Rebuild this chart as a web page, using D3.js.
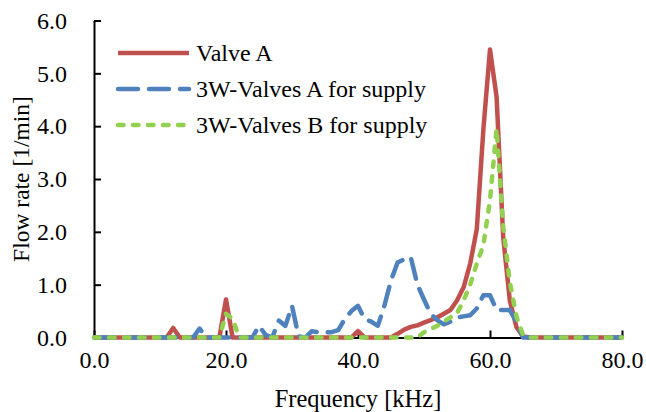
<!DOCTYPE html>
<html><head><meta charset="utf-8">
<script src="https://cdn.jsdelivr.net/npm/d3@7/dist/d3.min.js"></script>
</head><body style="margin:0;background:#fff">
<svg id="chart" width="646" height="412" style="display:block"></svg>
<script>
// ---- data ----
const freq = [0,1,2,3,4,5,6,7,8,9,10,11,12,13,14,15,16,17,18,19,20,21,22,23,24,25,26,27,28,29,30,31,32,33,34,35,36,37,38,39,40,41,42,43,44,45,46,47,48,49,50,51,52,53,54,55,56,57,58,59,60,61,62,63,64,65,66,67,68,69,70,71,72,73,74,75,76,77,78,79,80];
const valveA = [0,0,0,0,0,0,0,0,0,0,0,0,0.18,0,0,0,0,0,0,0,0.72,0,0,0,0,0,0,0,0,0,0,0,0,0,0,0,0,0,0,0,0.12,0,0,0,0,0,0.07,0.15,0.2,0.23,0.28,0.33,0.38,0.45,0.52,0.7,0.95,1.4,2.05,3.95,5.45,4.55,1.9,0.7,0.2,0.02,0,0,0,0,0,0,0,0,0,0,0,0,0,0,0];
const valves3WA = [0,0,0,0,0,0,0,0,0,0,0,0,0,0,0,0,0.17,0,0,0,0,0,0,0,0,0.22,0.05,0,0.32,0.22,0.6,0.02,0,0.12,0.1,0.1,0.1,0.14,0.35,0.5,0.6,0.35,0.3,0.22,0.6,1.08,1.42,1.48,1.52,1.0,0.72,0.45,0.33,0.25,0.3,0.38,0.4,0.42,0.55,0.8,0.8,0.52,0.52,0.52,0.3,0,0,0,0,0,0,0,0,0,0,0,0,0,0,0,0];
const valves3WB = [0,0,0,0,0,0,0,0,0,0,0,0,0,0,0,0,0,0,0,0,0.45,0.35,0,0,0,0,0,0,0,0,0,0,0,0,0,0,0,0,0,0,0,0,0,0,0,0,0,0,0,0,0.1,0.16,0.22,0.3,0.38,0.46,0.7,1.0,1.4,1.75,2.6,3.95,2.1,1.05,0.4,0.05,0,0,0,0,0,0,0,0,0,0,0,0,0,0,0];
const seriesNames = ["Valve A","3W-Valves A for supply","3W-Valves B for supply"];
const xTicks = [0,20,40,60,80];
const yTicks = [0,1,2,3,4,5,6];

// ---- layout ----
const FONT = '"Times New Roman"';
const svg = d3.select("#chart");
const x = d3.scaleLinear().domain([0,80]).range([94,622]);
const y = d3.scaleLinear().domain([0,6]).range([337.5,20.5]);

const series = [
  {name: seriesNames[0], values: valveA, color: "#C0504D", dash: null},
  {name: seriesNames[1], values: valves3WA, color: "#4F81BD", dash: "20,11"},
  {name: seriesNames[2], values: valves3WB, color: "#92D050", dash: "5.5,9.5"}
];

// axes
const xAxis = d3.axisBottom(x).tickValues(xTicks).tickSizeInner(-7).tickSizeOuter(0).tickFormat(d3.format(".1f")).tickPadding(13);
const gx = svg.append("g").attr("transform", `translate(0,${y(0)})`).call(xAxis);
const yAxis = d3.axisLeft(y).tickValues(yTicks).tickSizeInner(-7).tickSizeOuter(0).tickFormat(d3.format(".1f")).tickPadding(27);
const gy = svg.append("g").attr("transform", `translate(${x(0)},0)`).call(yAxis);
[gx, gy].forEach(g => {
  g.attr("font-family", null).attr("font-size", null);
  g.select(".domain").attr("stroke", "#000").attr("stroke-width", 2);
  g.selectAll(".tick line").attr("stroke", "#000").attr("stroke-width", 2);
  g.selectAll(".tick text").style("font-family", FONT).style("font-size", "24px").style("fill", "#000");
});

// axis titles
svg.append("text").attr("x", 358).attr("y", 407).attr("text-anchor", "middle")
  .style("font-family", FONT).style("font-size", "24.5px").text("Frequency [kHz]");
svg.append("text").attr("transform", "translate(29,179) rotate(-90)").attr("text-anchor", "middle")
  .style("font-family", FONT).style("font-size", "23.5px").text("Flow rate [1/min]");

// lines
const line = d3.line().x((d,i) => x(freq[i])).y(d => y(d));
series.forEach(s => {
  svg.append("path").datum(s.values).attr("d", line)
    .attr("fill", "none").attr("stroke", s.color).attr("stroke-width", 4.5)
    .attr("stroke-linecap", s.dash ? "round" : "butt").attr("stroke-linejoin", "round")
    .attr("stroke-dasharray", s.dash);
});

// legend
const legY = [53, 89, 125];
series.forEach((s, i) => {
  svg.append("line").attr("x1", 118).attr("x2", 189).attr("y1", legY[i]).attr("y2", legY[i])
    .attr("stroke", s.color).attr("stroke-width", 4.5)
    .attr("stroke-linecap", s.dash ? "round" : "butt").attr("stroke-dasharray", s.dash);
  svg.append("text").attr("x", 196).attr("y", legY[i] + 8)
    .style("font-family", FONT).style("font-size", "24px").text(s.name);
});
</script>
</body></html>
